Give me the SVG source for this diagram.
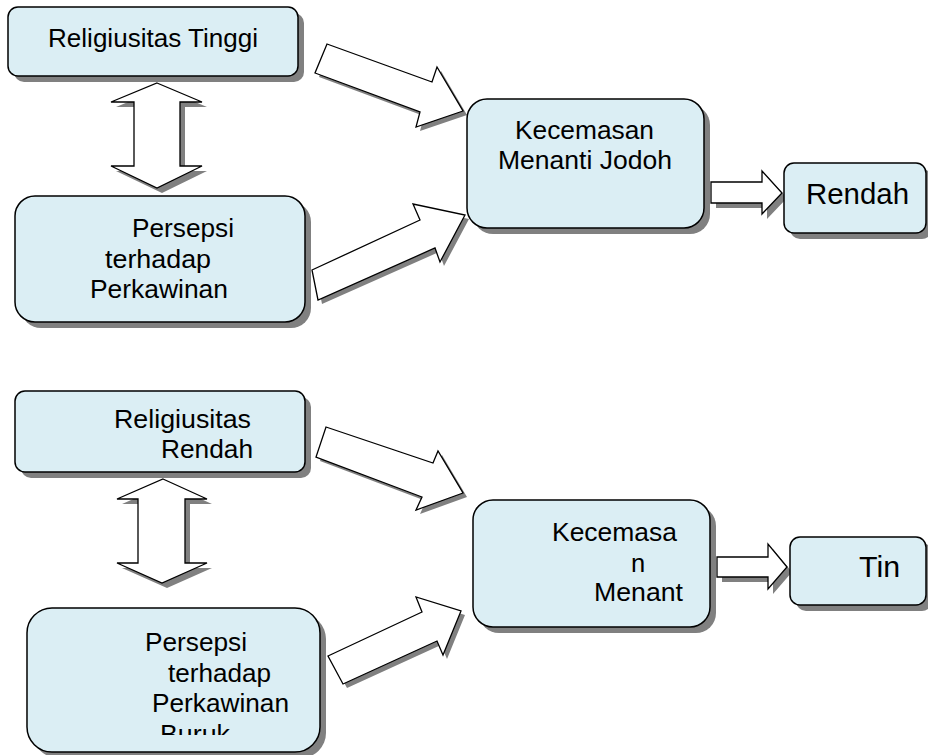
<svg xmlns="http://www.w3.org/2000/svg" xmlns:xlink="http://www.w3.org/1999/xlink" width="928" height="755" viewBox="0 0 928 755">
<style>
.box{fill:#DBEEF4;stroke:#000;stroke-width:1.5}
.shadow{fill:#808080;stroke:none}
.arrow{fill:#fff;stroke:#000;stroke-width:1.3;stroke-linejoin:miter}
text{font-family:"Liberation Sans",Arial,sans-serif;font-size:25.5px;fill:#000}
.big{font-size:29px}
</style>
<defs>
<polygon id="da1" points="157,83 202,102 180,102 180,166 202,166 157,188 111,166 134,166 134,102 111,102"/>
<polygon id="da2" points="163,479 207,499 185,499 185,563 207,563 162,583 117,563 138,563 138,499 117,499"/>
<polygon id="a1" points="327,44 432,82 437,67 463,111 416,127 420,112 315,73"/>
<polygon id="a2" points="312,270 420,220 413,204 465,215 440,262 435,248 318,300"/>
<polygon id="a3" points="711,182 762,182 762,171 782,193 762,214 762,203 711,203"/>
<polygon id="a4" points="326,427 433,463 438,451 463,493 416,510 422,497 316,457"/>
<polygon id="a5" points="328,656 422,612 416,597 461,611 443,655 437,641 343,684"/>
<polygon id="a6" points="717,557 768,557 768,544 787,567 768,589 768,577 717,577"/>
<clipPath id="clipBuruk"><rect x="27" y="600" width="300" height="135"/></clipPath>
</defs>

<g id="connectors">
<use xlink:href="#da1" href="#da1" class="shadow" transform="translate(5,5)"/>
<use xlink:href="#da1" href="#da1" class="arrow"/>
<use xlink:href="#a1" href="#a1" class="shadow" transform="translate(4,4)"/>
<use xlink:href="#a1" href="#a1" class="arrow"/>
<use xlink:href="#a2" href="#a2" class="shadow" transform="translate(4,4)"/>
<use xlink:href="#a2" href="#a2" class="arrow"/>
<use xlink:href="#a3" href="#a3" class="shadow" transform="translate(5,5)"/>
<use xlink:href="#a3" href="#a3" class="arrow"/>
<use xlink:href="#da2" href="#da2" class="shadow" transform="translate(5,5)"/>
<use xlink:href="#da2" href="#da2" class="arrow"/>
<use xlink:href="#a4" href="#a4" class="shadow" transform="translate(4,4)"/>
<use xlink:href="#a4" href="#a4" class="arrow"/>
<use xlink:href="#a5" href="#a5" class="shadow" transform="translate(4,4)"/>
<use xlink:href="#a5" href="#a5" class="arrow"/>
<use xlink:href="#a6" href="#a6" class="shadow" transform="translate(5,5)"/>
<use xlink:href="#a6" href="#a6" class="arrow"/>
</g>

<g id="religiusitas-tinggi">
<rect class="shadow" x="14" y="13" width="290" height="69" rx="10"/>
<rect class="box" x="8" y="7" width="290" height="69" rx="10"/>
<text x="48" y="47" textLength="210" lengthAdjust="spacingAndGlyphs">Religiusitas Tinggi</text>
</g>

<g id="persepsi-1">
<rect class="shadow" x="21" y="202" width="290" height="126" rx="20"/>
<rect class="box" x="15" y="196" width="290" height="126" rx="20"/>
<text x="132" y="237" textLength="102" lengthAdjust="spacingAndGlyphs">Persepsi</text>
<text x="105" y="268" textLength="106" lengthAdjust="spacingAndGlyphs">terhadap</text>
<text x="90" y="298" textLength="138" lengthAdjust="spacingAndGlyphs">Perkawinan</text>
</g>

<g id="kecemasan-1">
<rect class="shadow" x="473" y="105" width="237" height="129" rx="20"/>
<rect class="box" x="467" y="99" width="237" height="129" rx="20"/>
<text x="515" y="139" textLength="139" lengthAdjust="spacingAndGlyphs">Kecemasan</text>
<text x="498" y="169" textLength="174" lengthAdjust="spacingAndGlyphs">Menanti Jodoh</text>
</g>

<g id="rendah-1">
<rect class="shadow" x="790" y="169" width="142" height="70" rx="10"/>
<rect class="box" x="784" y="163" width="142" height="70" rx="10"/>
<text class="big" x="806" y="204" textLength="103" lengthAdjust="spacingAndGlyphs">Rendah</text>
</g>

<g id="religiusitas-rendah">
<rect class="shadow" x="21" y="397" width="290" height="81" rx="10"/>
<rect class="box" x="15" y="391" width="290" height="81" rx="10"/>
<text x="114" y="428" textLength="137" lengthAdjust="spacingAndGlyphs">Religiusitas</text>
<text x="161" y="458" textLength="92" lengthAdjust="spacingAndGlyphs">Rendah</text>
</g>

<g id="persepsi-2">
<rect class="shadow" x="33" y="614" width="293" height="144" rx="25"/>
<rect class="box" x="27" y="608" width="293" height="144" rx="25"/>
<text x="145" y="651" textLength="102" lengthAdjust="spacingAndGlyphs">Persepsi</text>
<text x="168" y="682" textLength="103" lengthAdjust="spacingAndGlyphs">terhadap</text>
<text x="152" y="712" textLength="137" lengthAdjust="spacingAndGlyphs">Perkawinan</text>
<text x="160" y="743" textLength="70" lengthAdjust="spacingAndGlyphs" clip-path="url(#clipBuruk)">Buruk</text>
</g>

<g id="kecemasan-2">
<rect class="shadow" x="479" y="506" width="237" height="127" rx="20"/>
<rect class="box" x="473" y="500" width="237" height="127" rx="20"/>
<text x="552" y="541" textLength="125" lengthAdjust="spacingAndGlyphs">Kecemasa</text>
<text x="631" y="572">n</text>
<text x="594" y="601" textLength="89" lengthAdjust="spacingAndGlyphs">Menant</text>
</g>

<g id="tinggi-2">
<rect class="shadow" x="796" y="543" width="136" height="68" rx="10"/>
<rect class="box" x="790" y="537" width="136" height="68" rx="10"/>
<text class="big" x="859" y="577" textLength="41" lengthAdjust="spacingAndGlyphs">Tin</text>
</g>
</svg>
